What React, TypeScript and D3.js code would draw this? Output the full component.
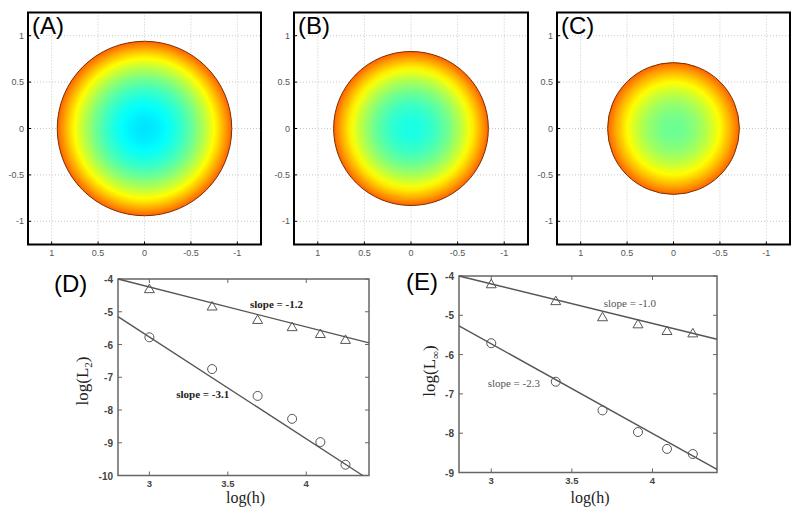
import React from "react";
import * as d3 from "d3";

// ---- data ----
const panelLabelsTop = ["(A)", "(B)", "(C)"];
const circleRadii = [0.94, 0.83, 0.71];
const centerValues = [0.35, 0.4, 0.48];
const edgeValues = [0.78, 0.78, 0.78];
const topTicks = [1, 0.5, 0, -0.5, -1];

const logH = [3.0, 3.4, 3.69, 3.91, 4.09, 4.25];
const l2Tri = [-4.31, -4.84, -5.25, -5.47, -5.68, -5.86];
const l2Circ = [-5.78, -6.75, -7.57, -8.27, -8.98, -9.67];
const lInfTri = [-4.21, -4.64, -5.05, -5.23, -5.4, -5.46];
const lInfCirc = [-5.71, -6.69, -7.42, -7.97, -8.4, -8.53];

const fitD_upper = [[2.8, -4.0], [4.4, -5.95]];
const fitD_lower = [[2.8, -5.15], [4.36, -10]];
const fitE_upper = [[2.8, -4.0], [4.4, -5.61]];
const fitE_lower = [[2.8, -5.27], [4.4, -8.92]];

const xTicksBottom = [3, 3.5, 4];
const yTicksD = [-4, -5, -6, -7, -8, -9, -10];
const yTicksE = [-4, -5, -6, -7, -8, -9];

function jet(t: number) {
  const c = (v: number) => Math.max(0, Math.min(1, v));
  const r = c(1.5 - Math.abs(4 * t - 3));
  const g = c(1.5 - Math.abs(4 * t - 2));
  const b = c(1.5 - Math.abs(4 * t - 1));
  return d3.rgb(r * 255, g * 255, b * 255).formatHex();
}

const topFrames = [
  { x0: 28, x1: 261 },
  { x0: 294, x1: 528 },
  { x0: 557, x1: 790 },
];
const topY0 = 12.5;
const topY1 = 244.5;

function TopPanel({ i }: { i: number }) {
  const f = topFrames[i];
  const x = d3.scaleLinear().domain([1.255, -1.255]).range([f.x0, f.x1]);
  const y = d3.scaleLinear().domain([-1.25, 1.25]).range([topY1, topY0]);
  const R = circleRadii[i];
  const rx = Math.abs(x(R) - x(0));
  const ry = Math.abs(y(R) - y(0));
  const stops = d3.range(0, 1.0001, 0.05).map((s) => ({
    off: s,
    col: jet(centerValues[i] + (edgeValues[i] - centerValues[i]) * s * s),
  }));
  const gid = `grad${i}`;
  return (
    <g>
      <defs>
        <radialGradient id={gid} cx="50%" cy="50%" r="50%">
          {stops.map((s, k) => (
            <stop key={k} offset={`${s.off * 100}%`} stopColor={s.col} />
          ))}
        </radialGradient>
      </defs>
      <rect x={f.x0} y={topY0} width={f.x1 - f.x0} height={topY1 - topY0} fill="#fff" />
      {topTicks.map((t) => (
        <g key={t}>
          <line x1={x(t)} x2={x(t)} y1={topY0} y2={topY1} stroke="#c8c8c8" strokeWidth={1} strokeDasharray="1,2" />
          <line x1={f.x0} x2={f.x1} y1={y(t)} y2={y(t)} stroke="#c8c8c8" strokeWidth={1} strokeDasharray="1,2" />
        </g>
      ))}
      <ellipse cx={x(0)} cy={y(0)} rx={rx} ry={ry} fill={`url(#${gid})`} stroke="#7a3200" strokeWidth={1} />
      <rect x={f.x0} y={topY0} width={f.x1 - f.x0} height={topY1 - topY0} fill="none" stroke="#000" strokeWidth={2} />
      {topTicks.map((t) => (
        <g key={"l" + t}>
          <text x={x(t)} y={256} fontSize={9} fontFamily="Arial, Liberation Sans, sans-serif" fill="#555" textAnchor="middle">
            {t}
          </text>
          <text x={f.x0 - 4} y={y(t) + 3} fontSize={9} fontFamily="Arial, Liberation Sans, sans-serif" fill="#555" textAnchor="end">
            {t}
          </text>
          <line x1={x(t)} x2={x(t)} y1={topY1} y2={topY1 - 3} stroke="#000" />
          <line x1={f.x0} x2={f.x0 + 3} y1={y(t)} y2={y(t)} stroke="#000" />
        </g>
      ))}
      <text x={f.x0 + 4} y={34} fontSize={24} fontFamily="Arial, Liberation Sans, sans-serif" fill="#000">
        {panelLabelsTop[i]}
      </text>
    </g>
  );
}

function Tri({ cx, cy }: { cx: number; cy: number }) {
  const s = 5;
  return (
    <path d={`M${cx},${cy - s}L${cx + s},${cy + s * 0.7}L${cx - s},${cy + s * 0.7}Z`} fill="none" stroke="#555" strokeWidth={1} />
  );
}

function ErrPanel(props: {
  x0: number; x1: number; y0: number; y1: number; yMin: number;
  yTicks: number[]; tri: number[]; circ: number[];
  fitU: number[][]; fitL: number[][]; label: string;
  labelX: number; labelY: number; sub: string; ylabX: number; ylabY: number;
  slopeU: string; slopeL: string; sU: number[]; sL: number[]; bold: boolean;
}) {
  const p = props;
  const x = d3.scaleLinear().domain([2.8, 4.4]).range([p.x0, p.x1]);
  const y = d3.scaleLinear().domain([p.yMin, -4]).range([p.y1, p.y0]);
  const line = d3.line<number[]>().x((d) => x(d[0])).y((d) => y(d[1]));
  const font = "Arial, Liberation Sans, sans-serif";
  const serif = "Times New Roman, Liberation Serif, serif";
  return (
    <g>
      <rect x={p.x0} y={p.y0} width={p.x1 - p.x0} height={p.y1 - p.y0} fill="#fff" stroke="#666" strokeWidth={1.5} />
      {xTicksBottom.map((t) => (
        <g key={t}>
          <line x1={x(t)} x2={x(t)} y1={p.y1} y2={p.y1 - 4} stroke="#666" />
          <line x1={x(t)} x2={x(t)} y1={p.y0} y2={p.y0 + 4} stroke="#666" />
          <text x={x(t)} y={p.y1 + 11} fontSize={9.5} fontWeight="bold" fontFamily={font} fill="#444" textAnchor="middle">{t}</text>
        </g>
      ))}
      {p.yTicks.map((t) => (
        <g key={t}>
          <line x1={p.x0} x2={p.x0 + 4} y1={y(t)} y2={y(t)} stroke="#666" />
          <line x1={p.x1} x2={p.x1 - 4} y1={y(t)} y2={y(t)} stroke="#666" />
          <text x={p.x0 - 5} y={y(t) + 4} fontSize={10} fontWeight="bold" fontFamily={font} fill="#444" textAnchor="end">{t}</text>
        </g>
      ))}
      <path d={line(p.fitU) || ""} fill="none" stroke="#555" strokeWidth={1.4} />
      <path d={line(p.fitL) || ""} fill="none" stroke="#555" strokeWidth={1.4} />
      {logH.map((h, k) => (
        <g key={k}>
          <Tri cx={x(h)} cy={y(p.tri[k])} />
          <circle cx={x(h)} cy={y(p.circ[k])} r={4.5} fill="none" stroke="#555" strokeWidth={1} />
        </g>
      ))}
      <text x={x(p.sU[0])} y={y(p.sU[1])} fontSize={11} fontWeight={p.bold ? "bold" : "normal"} fontFamily={serif} fill={p.bold ? "#222" : "#555"} textAnchor="middle">{p.slopeU}</text>
      <text x={x(p.sL[0])} y={y(p.sL[1])} fontSize={11} fontWeight={p.bold ? "bold" : "normal"} fontFamily={serif} fill={p.bold ? "#222" : "#555"} textAnchor="middle">{p.slopeL}</text>
      <text x={(p.x0 + p.x1) / 2 + 2} y={503} fontSize={16} fontFamily={serif} fill="#222" textAnchor="middle">log(h)</text>
      <text transform={`translate(${p.ylabX},${p.ylabY}) rotate(-90)`} fontSize={17} fontFamily={serif} fill="#222" textAnchor="middle">
        log(L<tspan fontSize={11} dy={4}>{p.sub}</tspan><tspan dy={-4}>)</tspan>
      </text>
      <text x={p.labelX} y={p.labelY} fontSize={24} fontFamily={font} fill="#000">{p.label}</text>
    </g>
  );
}

export default function App() {
  return (
    <svg width={800} height={513} style={{ position: "absolute", left: 0, top: 0, background: "#fff" }}>
      <rect width={800} height={513} fill="#fff" />
      {[0, 1, 2].map((i) => (
        <TopPanel key={i} i={i} />
      ))}
      <ErrPanel
        x0={118} x1={369} y0={279} y1={475.5} yMin={-10} yTicks={yTicksD}
        tri={l2Tri} circ={l2Circ} fitU={fitD_upper} fitL={fitD_lower}
        label="(D)" labelX={54} labelY={292} sub="2" ylabX={88} ylabY={381}
        slopeU="slope = -1.2" slopeL="slope = -3.1" sU={[3.81, -4.89]} sL={[3.34, -7.63]} bold={true}
      />
      <ErrPanel
        x0={459} x1={717} y0={276} y1={472.5} yMin={-9} yTicks={yTicksE}
        tri={lInfTri} circ={lInfCirc} fitU={fitE_upper} fitL={fitE_lower}
        label="(E)" labelX={406} labelY={290} sub="∞" ylabX={435} ylabY={371}
        slopeU="slope = -1.0" slopeL="slope = -2.3" sU={[3.86, -4.79]} sL={[3.14, -6.82]} bold={false}
      />
    </svg>
  );
}
